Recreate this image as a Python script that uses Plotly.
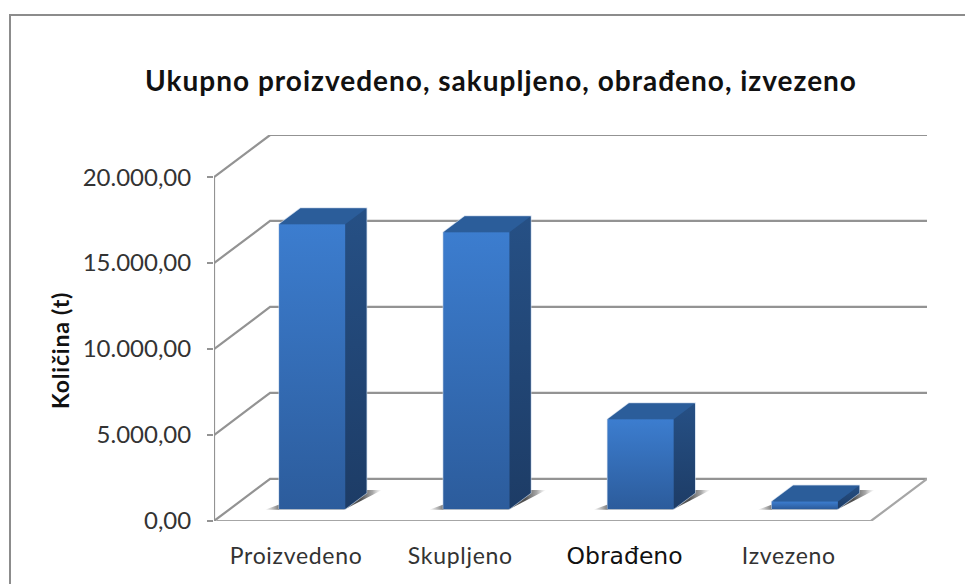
import plotly.graph_objects as go

categories = ["Proizvedeno", "Skupljeno", "Obrađeno", "Izvezeno"]
values = [16560, 16090, 5210, 430]
tick_values = [0, 5000, 10000, 15000, 20000]
tick_labels = ["0,00", "5.000,00", "10.000,00", "15.000,00", "20.000,00"]
title_text = "Ukupno proizvedeno, sakupljeno, obrađeno, izvezeno"
y_title = "Količina (t)"

# oblique projection of the 3-D depth axis into axis units
DX, DY = 0.3415, 2450
D0, D1 = 0.286, 0.667   # depth span of the bars
BAR_W = 0.402
X0, X1 = -0.5, 3.5
GRID = "#939393"
FONT = "Lato, Carlito, sans-serif"


def proj(x, v, d):
    return x + d * DX, v + d * DY


def spaced(text, px):
    return '<span style="letter-spacing:%spx">%s</span>' % (px, text)


fig = go.Figure()


def line(xs, ys, color=GRID, width=2.2):
    fig.add_trace(go.Scatter(x=xs, y=ys, mode="lines", line=dict(color=color, width=width),
                             hoverinfo="skip", showlegend=False, cliponaxis=False))


def poly(pts, edge="rgba(0,0,0,0)", ew=0, **kw):
    xs = [p[0] for p in pts] + [pts[0][0]]
    ys = [p[1] for p in pts] + [pts[0][1]]
    fig.add_trace(go.Scatter(x=xs, y=ys, mode="lines", fill="toself", hoverinfo="skip",
                             showlegend=False, cliponaxis=False,
                             line=dict(color=edge, width=ew), **kw))


# walls and floor gridlines
for v in tick_values:
    a = proj(X0, v, 0)
    b = proj(X0, v, 1)
    c = proj(X1, v, 1)
    line([a[0], b[0], c[0]], [a[1], b[1], c[1]])
line([X0, X0], [0, tick_values[-1]])
r0 = proj(X1, 0, 0)
r1 = proj(X1, 0, 1)
line([r1[0], r0[0], X0 + 0.015], [r1[1], r0[1], r0[1]], color="#a6a6a6")

# floor shadows
for i in range(len(values)):
    xl = i - BAR_W / 2
    xr = i + BAR_W / 2
    pts = [proj(xl - 0.08, 0, D0 - 0.02), proj(xr, 0, D0 - 0.02),
           proj(xr + 0.07, 0, D1 + 0.07), proj(xr - 0.1, 0, D1 + 0.07), proj(xl, 0, D0 + 0.2)]
    poly(pts, fillgradient=dict(type="horizontal", colorscale=[
        [0, "rgba(120,120,120,0)"], [0.12, "rgba(100,100,100,0.85)"],
        [0.82, "rgba(70,70,70,0.95)"], [0.92, "rgba(110,110,110,0.6)"],
        [1, "rgba(170,170,170,0)"]]))

# native bar trace: front faces
base = D0 * DY
fig.add_trace(go.Bar(x=[i + D0 * DX for i in range(len(values))], y=values, base=base,
                     width=BAR_W, marker=dict(color="#3468b0", line=dict(width=0)),
                     showlegend=False, hoverinfo="skip"))

# 3-D faces drawn from the same values
for i, val in enumerate(values):
    xl = i - BAR_W / 2
    xr = i + BAR_W / 2
    # soft light halo around the whole box
    poly([proj(xl, 0, D0), proj(xr, 0, D0), proj(xr, 0, D1), proj(xr, val, D1),
          proj(xl, val, D1), proj(xl, val, D0)],
         edge="rgba(190,208,230,0.8)", ew=1.5, fillcolor="#265085")
    # side
    poly([proj(xr, 0, D0), proj(xr, 0, D1), proj(xr, val, D1), proj(xr, val, D0)],
         fillgradient=dict(type="vertical", colorscale=[[0, "#1d3c66"], [1, "#265085"]]))
    # top
    poly([proj(xl, val, D0), proj(xr, val, D0), proj(xr, val, D1), proj(xl, val, D1)],
         fillcolor="#2b5d9a")
    # front gradient
    poly([proj(xl, 0, D0), proj(xr, 0, D0), proj(xr, val, D0), proj(xl, val, D0)],
         fillgradient=dict(type="vertical", colorscale=[[0, "#2c5c9c"], [1, "#3c7dcf"]]))

ticktext = [spaced(c, 0.7) for c in categories]
ticktext[2] = '<span style="font-family:\'DejaVu Sans\';font-size:23.5px;fill:#111111">%s</span>' % categories[2]

fig.update_layout(
    width=965, height=584, autosize=False,
    margin=dict(l=214, r=38, t=135, b=63),
    paper_bgcolor="white", plot_bgcolor="white",
    showlegend=False, barmode="overlay",
    font=dict(family=FONT, color="#2b2b2b"),
    title=dict(text=spaced(title_text, 1), x=501 / 965, xanchor="center", xref="container",
               y=1 - 81 / 584, yanchor="middle", yref="container",
               font=dict(family=FONT, size=28, color="#111111", weight="bold")),
    xaxis=dict(range=[X0, X1 + DX], tickmode="array", tickvals=list(range(len(categories))), ticktext=ticktext,
               showgrid=False, zeroline=False, showline=False, ticks="outside", ticklen=14,
               tickcolor="rgba(0,0,0,0)", tickfont=dict(size=23, family=FONT, color="#333333"), fixedrange=True),
    yaxis=dict(range=[0, tick_values[-1] + DY], tickmode="array", tickvals=tick_values, ticktext=tick_labels,
               showgrid=False, zeroline=False, showline=False, ticks="outside", ticklen=6, tickwidth=2,
               ticklabelstandoff=11,
               tickcolor=GRID, tickfont=dict(size=24, family=FONT, color="#333333"),
               automargin=False, fixedrange=True),
    annotations=[dict(text=spaced(y_title, 0.8), textangle=-90, xref="paper", yref="paper",
                      x=(60 - 214) / 713, y=(521 - 351) / 386, xanchor="center", yanchor="middle",
                      showarrow=False, font=dict(size=23, family=FONT, color="#111111", weight="bold"))],
    shapes=[dict(type="rect", xref="paper", yref="paper", x0=-204 / 713, x1=1.5, y0=-0.5, y1=1 + 120 / 386,
                 line=dict(color="#8c8c8c", width=2), fillcolor="rgba(0,0,0,0)", layer="below")],
)

fig.write_html("out.html", config={"displayModeBar": False},
               post_script="document.body.style.margin='0';document.documentElement.style.overflow='hidden';")
